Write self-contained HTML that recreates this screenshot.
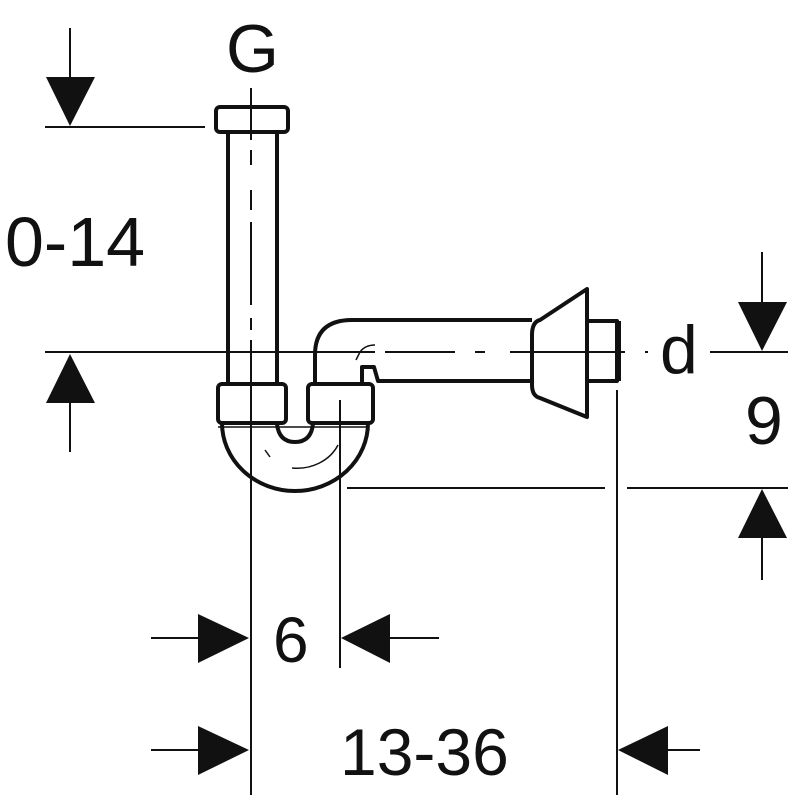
<!DOCTYPE html>
<html><head><style>html,body{margin:0;padding:0;background:#fff}svg{display:block}</style></head>
<body>
<svg width="800" height="800" viewBox="0 0 800 800" xmlns="http://www.w3.org/2000/svg">
<g fill="none" stroke="#111" stroke-linejoin="round">
<!-- pipe parts -->
<g stroke-width="4">
<rect x="216" y="107" width="72" height="25" rx="4"/>
<line x1="228" y1="132" x2="228" y2="383"/>
<line x1="277" y1="132" x2="277" y2="383"/>
<rect x="218" y="384" width="68" height="39" rx="4"/>
<rect x="308" y="384" width="65" height="39" rx="4"/>
<path d="M222 423 A73 68 0 0 0 368 423"/>
<path d="M277 424 Q279 442 295 442 Q311 442 313 424"/>
<path d="M315 383 L315 355 Q315 320 352 320 L532 320"/>
<path d="M362 383 L362 367 L374 367 L378 381 L532 381"/>
<path d="M540 320 Q532 322 532 335 L532 385 Q532 396 540 398 L587 417 L587 289 Z"/>
<rect x="587" y="321" width="30" height="60"/>
<line x1="618" y1="321" x2="618" y2="381" stroke-width="6"/>
</g>
<g stroke-width="1.5">
<line x1="218" y1="427" x2="368" y2="427"/>
<path d="M338 445 A45 40 0 0 1 292 468"/>
<path d="M265 450 L270 457"/>
<path d="M375 345 Q365 345 360 352 L356 360"/>
</g>
<!-- centre lines -->
<g stroke-width="2">
<line x1="251" y1="88" x2="251" y2="140"/>
<line x1="251" y1="150" x2="251" y2="165" />
<line x1="251" y1="190" x2="251" y2="210"/>
<line x1="251" y1="222" x2="251" y2="305"/>
<line x1="251" y1="318" x2="251" y2="330"/>
<line x1="251" y1="340" x2="251" y2="795"/>
<line x1="340" y1="400" x2="340" y2="668"/>
<line x1="617" y1="390" x2="617" y2="795"/>
<line x1="45" y1="127" x2="205" y2="127"/>
<line x1="45" y1="352" x2="375" y2="352"/>
<line x1="385" y1="352" x2="455" y2="352"/>
<line x1="475" y1="352" x2="485" y2="352"/>
<line x1="510" y1="352" x2="625" y2="352"/>
<line x1="645" y1="352" x2="648" y2="352"/>
<line x1="710" y1="352" x2="788" y2="352"/>
<line x1="347" y1="488" x2="605" y2="488"/>
<line x1="627" y1="488" x2="788" y2="488"/>
<!-- arrows lines -->
<line x1="70" y1="28" x2="70" y2="80"/>
<line x1="70" y1="400" x2="70" y2="452"/>
<line x1="762" y1="252" x2="762" y2="305"/>
<line x1="762" y1="535" x2="762" y2="580"/>
<line x1="151" y1="638" x2="200" y2="638"/>
<line x1="390" y1="638" x2="439" y2="638"/>
<line x1="151" y1="750" x2="200" y2="750"/>
<line x1="665" y1="750" x2="700" y2="750"/>
</g>
</g>
<g fill="#111">
<polygon points="46,77 95,77 70,126"/>
<polygon points="46,403 95,403 70,354"/>
<polygon points="738,302 787,302 762,351"/>
<polygon points="738,538 787,538 762,489"/>
<polygon points="198,614 198,663 249,638"/>
<polygon points="390,614 390,663 341,638"/>
<polygon points="198,726 198,775 249,750"/>
<polygon points="668,726 668,775 618,750"/>
</g>
<g font-family="Liberation Sans, sans-serif" fill="#111">
<text x="226" y="72" font-size="68">G</text>
<text x="5" y="266" font-size="70">0-14</text>
<text x="660" y="373" font-size="68">d</text>
<text x="745" y="444" font-size="68">9</text>
<text x="273" y="662" font-size="64">6</text>
<text x="340" y="775" font-size="66">13-36</text>
</g>
</svg>
</body></html>
